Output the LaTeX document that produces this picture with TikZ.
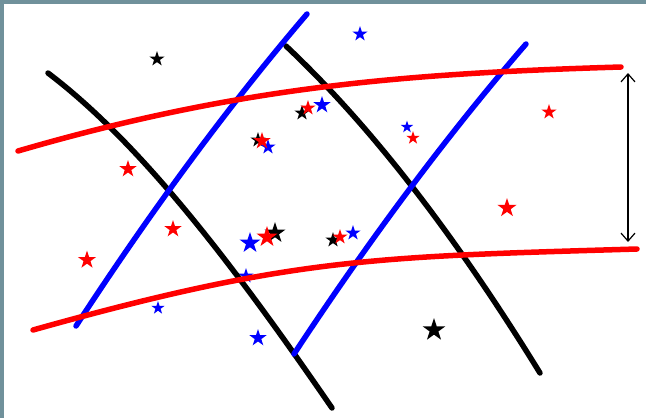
\documentclass[tikz,border=0pt]{standalone}
\usetikzlibrary{shapes.geometric,arrows.meta}
\definecolor{framegray}{RGB}{112,145,155}
\begin{document}
\begin{tikzpicture}[x=1pt,y=-1pt,
  starmark/.style={star, star points=5, star point ratio=2.6, inner sep=0pt, draw=none},
  thread/.style={line width=5.5pt, line cap=round}]
\useasboundingbox (0,0) rectangle (646,418);
\fill[framegray] (0,0) rectangle (646,4);
\fill[framegray] (0,0) rectangle (4,418);
% stars, black first, then blue, then red
\foreach \x/\y/\r [count=\i] in {157/59/8, 302/113/8, 258/140/8, 275/233/11, 333/240/8, 434/330/12}
  \node[starmark, fill=black, minimum size={2*\r pt}] (k\i) at (\x,\y) {};
\foreach \x/\y/\r [count=\i] in {360/34/8, 322/105/9, 268/147/8, 407/127/6.5, 250/243/11, 353/233/8, 246/276/8, 158/308/7, 258/338/9}
  \node[starmark, fill=blue, minimum size={2*\r pt}] (b\i) at (\x,\y) {};
\foreach \x/\y/\r [count=\i] in {308/108/8, 262/141/9, 413/138/7, 549/112/8, 128/169/9, 173/229/9, 87/260/9.5, 267/237/11, 340/237/8, 507/208/10}
  \node[starmark, fill=red, minimum size={2*\r pt}] (r\i) at (\x,\y) {};
% black curves
\draw[thread, black] (48,73) .. controls (143,145) and (237,270) .. (332,408);
\draw[thread, black] (286,46) .. controls (371,126) and (455,235) .. (540,373);
% blue curves
\draw[thread, blue] (76,326) .. controls (153,208) and (230,104) .. (307,14);
\draw[thread, blue] (294,354) .. controls (371,237) and (449,133) .. (526,44);
% red curves
\draw[thread, red] (18,151) .. controls (238,87) and (401,73.6) .. (621,67);
\draw[thread, red] (33,330) .. controls (293,257) and (377,256.8) .. (637,249);
% gap between the red curves
\coordinate (gaptop) at (628,73);
\coordinate (gapbot) at (628,242);
\draw[{Straight Barb[length=8pt,width=14pt]}-{Straight Barb[length=8pt,width=14pt]}, line width=1.2pt] (gaptop) -- (gapbot);
\end{tikzpicture}
\end{document}
